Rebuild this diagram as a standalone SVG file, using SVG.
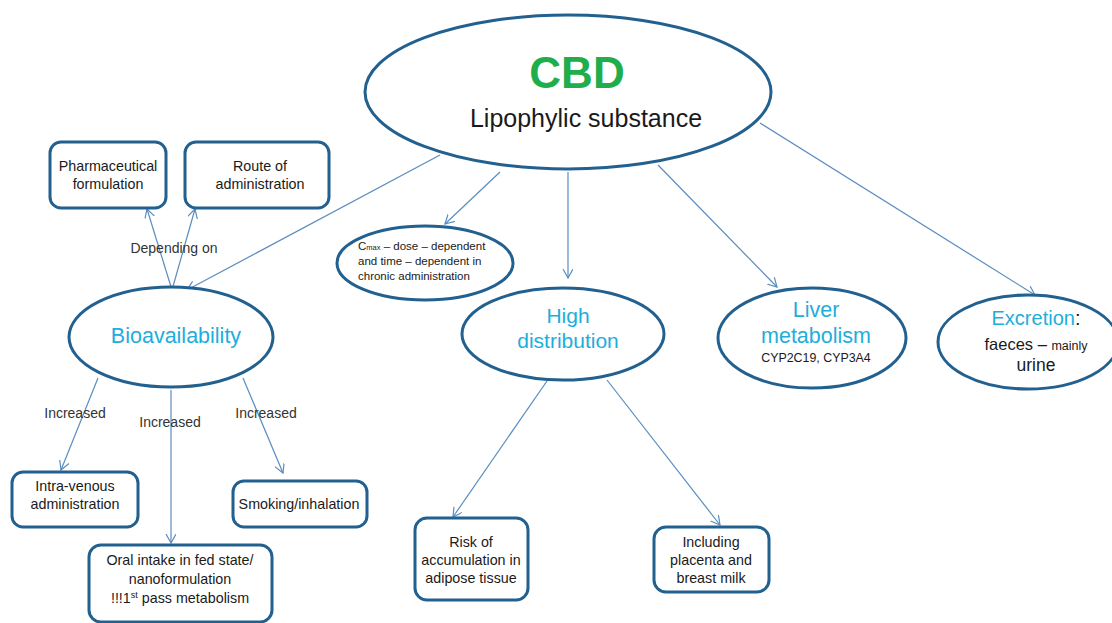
<svg xmlns="http://www.w3.org/2000/svg" width="1112" height="623" viewBox="0 0 1112 623">
<style>
.node{fill:#ffffff;stroke:#22608f;stroke-width:3}
.t{font-family:"Liberation Sans",Arial,sans-serif;fill:#1a1a1a;text-anchor:middle}
.box{font-size:14.3px}
.cy{fill:#1eaedb}
.lbl{font-family:"Liberation Sans",Arial,sans-serif;fill:#333333;font-size:14px;text-anchor:middle}
.con{stroke:#5a8cbf;stroke-width:1.2;fill:none}
</style>
<defs>
<marker id="ah" markerWidth="12" markerHeight="12" refX="9" refY="5" orient="auto" markerUnits="userSpaceOnUse">
<path d="M0,0 L9,5 L0,10" fill="none" stroke="#5a8cbf" stroke-width="1.2"/>
</marker>
</defs>
<rect width="1112" height="623" fill="#ffffff"/>

<g id="connectors">
<line class="con" x1="440" y1="155" x2="187" y2="290" marker-end="url(#ah)"/>
<line class="con" x1="500" y1="172" x2="445" y2="224" marker-end="url(#ah)"/>
<line class="con" x1="568" y1="172" x2="568" y2="278" marker-end="url(#ah)"/>
<line class="con" x1="658" y1="165" x2="777" y2="287" marker-end="url(#ah)"/>
<line class="con" x1="760" y1="123" x2="1035" y2="295" marker-end="url(#ah)"/>
<line class="con" x1="172" y1="290" x2="147" y2="209" marker-end="url(#ah)"/>
<line class="con" x1="172" y1="290" x2="195" y2="209" marker-end="url(#ah)"/>
<line class="con" x1="98" y1="378" x2="61" y2="470" marker-end="url(#ah)"/>
<line class="con" x1="171" y1="390" x2="171" y2="543" marker-end="url(#ah)"/>
<line class="con" x1="243" y1="378" x2="283" y2="473" marker-end="url(#ah)"/>
<line class="con" x1="547" y1="381" x2="453" y2="517" marker-end="url(#ah)"/>
<line class="con" x1="607" y1="380" x2="720" y2="525" marker-end="url(#ah)"/>
<text class="lbl" x="174" y="253">Depending on</text>
<text class="lbl" x="75" y="418">Increased</text>
<text class="lbl" x="170" y="427">Increased</text>
<text class="lbl" x="266" y="418">Increased</text>
</g>

<g id="cbd">
<ellipse class="node" cx="568" cy="92" rx="203" ry="77"/>
<text class="t" x="577" y="88" style="font-size:44px;font-weight:bold;fill:#1fae4b">CBD</text>
<text class="t" x="586" y="127" style="font-size:25px">Lipophylic substance</text>
</g>

<g id="pharmaceutical">
<rect class="node" x="50" y="142" width="116" height="66" rx="11"/>
<text class="t box" x="108" y="171">Pharmaceutical</text>
<text class="t box" x="108" y="189">formulation</text>
</g>

<g id="route">
<rect class="node" x="185" y="142" width="144" height="66" rx="11"/>
<text class="t box" x="260" y="171">Route of</text>
<text class="t box" x="260" y="189">administration</text>
</g>

<g id="cmax">
<ellipse class="node" cx="425" cy="263" rx="88" ry="37"/>
<text class="t" x="358" y="250" style="font-size:11.5px;text-anchor:start">C<tspan style="font-size:7.5px">max</tspan> – dose – dependent</text>
<text class="t" x="358" y="265" style="font-size:11.5px;text-anchor:start">and time – dependent  in</text>
<text class="t" x="358" y="280" style="font-size:11.5px;text-anchor:start">chronic administration</text>
</g>

<g id="bioavailability">
<ellipse class="node" cx="171" cy="337" rx="102" ry="50"/>
<text class="t cy" x="176" y="343" style="font-size:21.5px">Bioavailability</text>
</g>

<g id="high-distribution">
<ellipse class="node" cx="563" cy="334" rx="101" ry="46"/>
<text class="t cy" x="568" y="323" style="font-size:21px">High</text>
<text class="t cy" x="568" y="348" style="font-size:21px">distribution</text>
</g>

<g id="liver">
<ellipse class="node" cx="812" cy="338" rx="94" ry="50"/>
<text class="t cy" x="816" y="317" style="font-size:21.5px">Liver</text>
<text class="t cy" x="816" y="343" style="font-size:21.5px">metabolism</text>
<text class="t" x="816" y="362" style="font-size:12.4px">CYP2C19, CYP3A4</text>
</g>

<g id="excretion">
<ellipse class="node" cx="1028" cy="342" rx="90" ry="47"/>
<text class="t" x="1036" y="325" style="font-size:20px"><tspan class="cy">Excretion</tspan>:</text>
<text class="t" x="1036" y="350"><tspan style="font-size:16.5px">faeces – </tspan><tspan style="font-size:12.5px">mainly</tspan></text>
<text class="t" x="1036" y="371" style="font-size:17.5px">urine</text>
</g>

<g id="intravenous">
<rect class="node" x="12" y="472" width="126" height="55" rx="11"/>
<text class="t box" x="75" y="491">Intra-venous</text>
<text class="t box" x="75" y="509">administration</text>
</g>

<g id="smoking">
<rect class="node" x="233" y="481" width="134" height="46" rx="11"/>
<text class="t box" x="299" y="509">Smoking/inhalation</text>
</g>

<g id="oral">
<rect class="node" x="89" y="545" width="183" height="77" rx="12"/>
<text class="t box" x="180" y="565">Oral intake in fed state/</text>
<text class="t box" x="180" y="584">nanoformulation</text>
<text class="t box" x="180" y="603">!!!1<tspan dy="-5" style="font-size:9px">st</tspan><tspan dy="5"> pass metabolism</tspan></text>
</g>

<g id="risk">
<rect class="node" x="415" y="518" width="113" height="82" rx="12"/>
<text class="t box" x="471" y="547">Risk of</text>
<text class="t box" x="471" y="565">accumulation in</text>
<text class="t box" x="471" y="583">adipose tissue</text>
</g>

<g id="including">
<rect class="node" x="654" y="527" width="115" height="65" rx="12"/>
<text class="t box" x="711" y="547">Including</text>
<text class="t box" x="711" y="565">placenta and</text>
<text class="t box" x="711" y="583">breast milk</text>
</g>
</svg>
